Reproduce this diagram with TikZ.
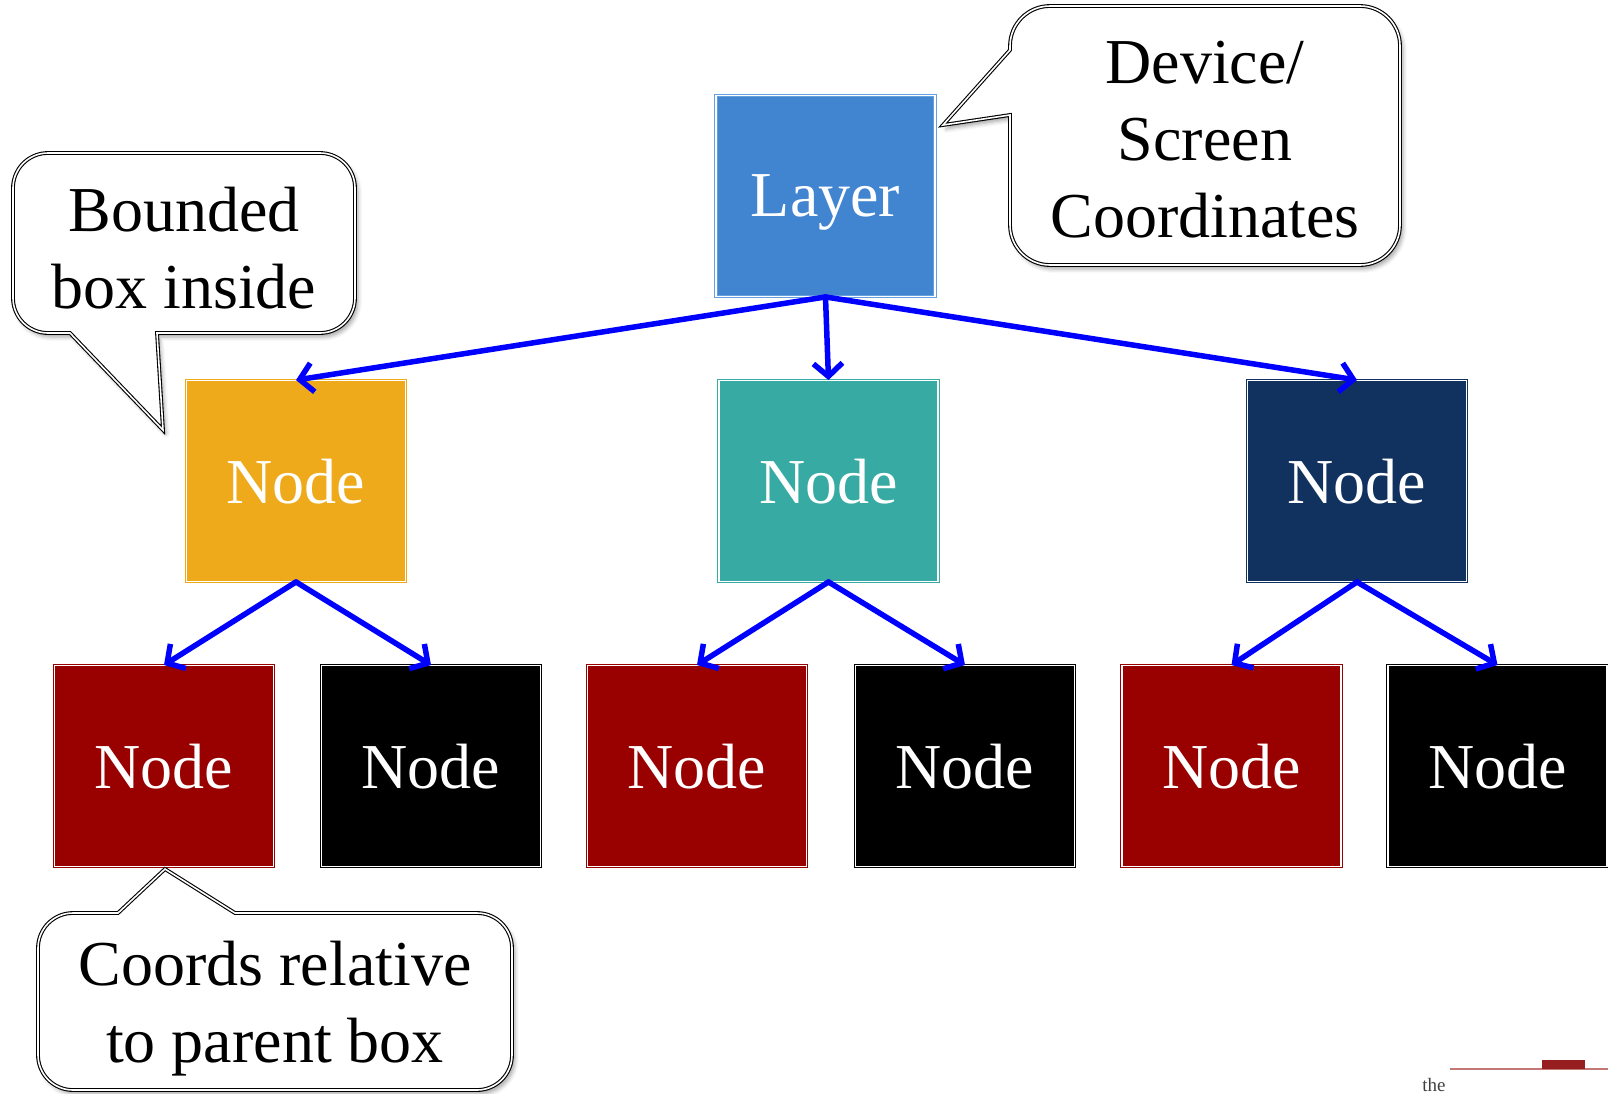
\documentclass[tikz,border=0pt]{standalone}
\usepackage{fontspec}
\setmainfont{Liberation Serif}
\usetikzlibrary{arrows.meta,shadows.blur}
\definecolor{layerc}{RGB}{65,132,208}
\definecolor{layerb}{RGB}{100,160,222}
\definecolor{yellowc}{RGB}{238,170,26}
\definecolor{tealc}{RGB}{55,171,163}
\definecolor{navyc}{RGB}{17,50,95}
\definecolor{redc}{RGB}{153,0,0}
\definecolor{logored}{RGB}{150,30,30}
\definecolor{logoline}{RGB}{195,120,120}
\begin{document}
\begin{tikzpicture}[x=1pt,y=-1pt,
  box/.style={draw=#1, fill=#1, double=white, double distance=1.6pt, line width=0.9pt,
    minimum width=219pt, minimum height=201pt, inner sep=0pt, text=white,
    text depth=0pt, font=\fontsize{64}{77}\selectfont},
  link/.style={draw=blue, line width=5.5pt, -{Straight Barb[length=13pt,width=29pt]},
    line cap=round, line join=round},
  callout/.style={draw=black, line width=1.1pt, double=white, double distance=1.6pt,
    fill=white, line join=miter,
    blur shadow={shadow xshift=3pt, shadow yshift=-4pt, shadow blur radius=4pt, shadow opacity=35}},
  calltext/.style={align=center, font=\fontsize{64}{77}\selectfont, inner sep=0pt}
]
\useasboundingbox (0,0) rectangle (1608,1093);

% boxes
\node[box=layerc, draw=layerb] (layer) at (825.5,196) {Layer};
\node[box=yellowc] (n1) at (296,481) {Node};
\node[box=tealc] (n2) at (828.5,481) {Node};
\node[box=navyc] (n3) at (1357,481) {Node};
\node[box=redc] (c1) at (164,766) {Node};
\node[box=black] (c2) at (431,766) {Node};
\node[box=redc] (c3) at (697,766) {Node};
\node[box=black] (c4) at (965,766) {Node};
\node[box=redc] (c5) at (1231.5,766) {Node};
\node[box=black] (c6) at (1497.5,766) {Node};

% connectors
\draw[link] (layer.south) -- (n1.north);
\draw[link] (layer.south) -- (n2.north);
\draw[link] (layer.south) -- (n3.north);
\draw[link] (n1.south) -- (c1.north);
\draw[link] (n1.south) -- (c2.north);
\draw[link] (n2.south) -- (c3.north);
\draw[link] (n2.south) -- (c4.north);
\draw[link] (n3.south) -- (c5.north);
\draw[link] (n3.south) -- (c6.north);

% callouts
\draw[callout] (1010,115) -- (943,125) -- (1010,50) -- (1010,46)
  arc[start angle=180, end angle=270, radius=40] -- (1360,6)
  arc[start angle=270, end angle=360, radius=40] -- (1400,225)
  arc[start angle=0, end angle=90, radius=40] -- (1050,265)
  arc[start angle=90, end angle=180, radius=40] -- cycle;
\node[calltext] (t1) at (1205,140) {Device/\\Screen\\Coordinates};

\draw[callout] (157,333) -- (163,430) -- (70,333) -- (48,333)
  arc[start angle=90, end angle=180, radius=35] -- (13,188)
  arc[start angle=180, end angle=270, radius=35] -- (320,153)
  arc[start angle=270, end angle=360, radius=35] -- (355,298)
  arc[start angle=0, end angle=90, radius=35] -- cycle;
\node[calltext] (t2) at (184,248) {Bounded\\box inside};

\draw[callout] (118,913) -- (165,869) -- (235,913) -- (477,913)
  arc[start angle=270, end angle=360, radius=35] -- (512,1055)
  arc[start angle=0, end angle=90, radius=35] -- (73,1090)
  arc[start angle=90, end angle=180, radius=35] -- (38,948)
  arc[start angle=180, end angle=270, radius=35] -- cycle;
\node[calltext] (t3) at (275,1009) {Coords relative\\to parent box};

% logo fragment
\draw[logoline, line width=1.5pt] (1450,1069) -- (1608,1069);
\fill[logored] (1542,1060) rectangle (1585,1069);
\node[text=black!75, font=\fontsize{19}{20}\selectfont, anchor=base, inner sep=0pt] (the) at (1434,1091) {the};
\end{tikzpicture}
\end{document}
